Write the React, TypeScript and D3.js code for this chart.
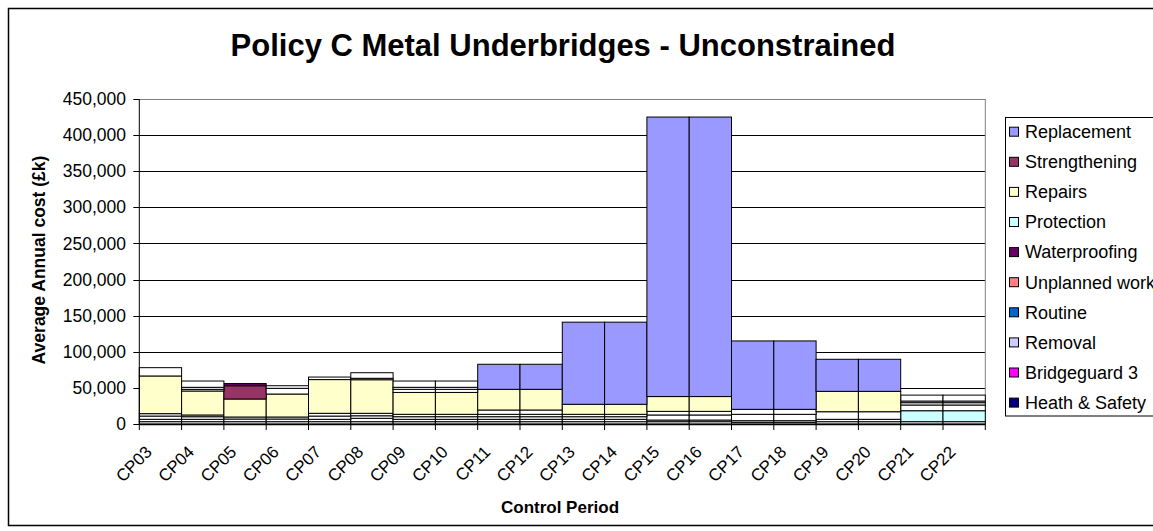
import React from "react";
import * as d3 from "d3";

const categories = ["CP03","CP04","CP05","CP06","CP07","CP08","CP09","CP10","CP11","CP12","CP13","CP14","CP15","CP16","CP17","CP18","CP19","CP20","CP21","CP22"];

// Stack order bottom -> top. Unlisted series are not shown in the (truncated) legend.
const unlistedA = [3200,3200,3200,3200,3200,3200,3200,3200,3200,3200,3200,3200,3200,3200,2300,2300,3200,3200,3200,3200];
const protection = [0,0,0,0,0,0,0,0,0,0,0,0,0,0,0,0,0,0,15200,15200];
const unlistedB = [3300,3300,3700,3700,3300,4700,3300,3300,3300,3300,3300,3300,2300,2300,2300,2300,3300,3300,7900,7900];
const unlistedC = [4500,3600,2800,2800,4500,3500,3600,3600,3600,3600,3600,3600,7000,7000,8800,8800,10500,10500,3200,3200];
const unlistedD = [3300,2400,0,0,3800,3400,3300,3300,3300,3300,3300,3300,5000,5000,6900,6900,0,0,2300,2300];
const unlistedE = [0,0,0,0,0,0,0,0,6000,6000,0,0,0,0,0,0,0,0,8200,8200];
const repairs = [52200,33200,24900,31800,46700,46500,30300,30300,28600,28600,13900,13900,20500,20500,0,0,28200,28200,0,0];
const strengthening = [0,0,18400,0,0,0,0,0,0,0,0,0,0,0,0,0,0,0,0,0];
const waterproofing = [0,0,3000,0,0,0,0,0,0,0,0,0,0,0,0,0,0,0,0,0];
const unlistedF = [11500,2300,0,7900,3500,2000,4300,4300,0,0,0,0,0,0,0,0,0,0,0,0];
const unlistedG = [0,2800,0,0,0,7700,2800,2800,0,0,0,0,0,0,0,0,0,0,0,0];
const unlistedH = [0,8700,0,3600,0,0,8700,8700,0,0,0,0,0,0,0,0,0,0,0,0];
const replacement = [0,0,0,0,0,0,0,0,34700,34700,113700,113700,387000,387000,94700,94700,44400,44400,0,0];

const stackSeries = [
  { key: "Unlisted A", values: unlistedA, color: "#FFFFFF" },
  { key: "Protection", values: protection, color: "#CCFFFF" },
  { key: "Unlisted B", values: unlistedB, color: "#FFFFFF" },
  { key: "Unlisted C", values: unlistedC, color: "#FFFFFF" },
  { key: "Unlisted D", values: unlistedD, color: "#FFFFFF" },
  { key: "Unlisted E", values: unlistedE, color: "#FFFFFF" },
  { key: "Repairs", values: repairs, color: "#FFFFCC" },
  { key: "Strengthening", values: strengthening, color: "#993366" },
  { key: "Waterproofing", values: waterproofing, color: "#660066" },
  { key: "Unlisted F", values: unlistedF, color: "#FFFFFF" },
  { key: "Unlisted G", values: unlistedG, color: "#FFFFFF" },
  { key: "Unlisted H", values: unlistedH, color: "#FFFFFF" },
  { key: "Replacement", values: replacement, color: "#9999FF" },
];

const legendNames = ["Replacement","Strengthening","Repairs","Protection","Waterproofing","Unplanned work","Routine","Removal","Bridgeguard 3","Heath & Safety"];
const legendColors = ["#9999FF","#993366","#FFFFCC","#CCFFFF","#660066","#FF8080","#0066CC","#CCCCFF","#FF00FF","#000080"];

const yTicks = [0,50000,100000,150000,200000,250000,300000,350000,400000,450000];

const FONT = "'Liberation Sans', Arial, sans-serif";

export default function App() {
  const W = 1153, H = 531;
  const left = 139.3, right = 985.3, top = 99, bottom = 424;
  const x = d3.scaleBand<string>().domain(categories).range([left, right]).padding(0);
  const y = d3.scaleLinear().domain([0, 450000]).range([bottom, top]);

  const rows = categories.map((c, i) => {
    const r: any = { cat: c };
    stackSeries.forEach(s => { r[s.key] = s.values[i]; });
    return r;
  });
  const stacked = d3.stack<any>().keys(stackSeries.map(s => s.key))(rows);
  const fmt = d3.format(",");

  const legendTop = 117.5;
  const rowH = 30.1;

  return (
    <svg width={W} height={H} style={{ position: "absolute", left: 0, top: 0, background: "#fff" }} fontFamily={FONT}>
      <rect x={8.5} y={8.5} width={W} height={517} fill="#fff" stroke="#000" strokeWidth={1.5} />
      <text x={563} y={56} textAnchor="middle" fontSize={31} fontWeight="bold">Policy C Metal Underbridges - Unconstrained</text>

      {/* gridlines */}
      {yTicks.map(t => (
        <line key={"g" + t} x1={left} x2={right} y1={Math.round(y(t)) + 0.5} y2={Math.round(y(t)) + 0.5} stroke={t === 450000 ? "#808080" : "#000"} strokeWidth={1} />
      ))}
      <line x1={right} x2={right} y1={top} y2={bottom} stroke="#808080" strokeWidth={1} />

      {/* bars */}
      {stacked.map((layer, li) => (
        <g key={layer.key}>
          {layer.map((d, i) => (
            <rect key={i} x={x(categories[i])!} y={y(d[1])} width={x.bandwidth()} height={Math.max(0, y(d[0]) - y(d[1]))}
              fill={stackSeries[li].color} stroke="#000" strokeWidth={1} />
          ))}
        </g>
      ))}

      {/* y axis */}
      <line x1={left} x2={left} y1={top} y2={bottom} stroke="#000" strokeWidth={1} />
      {yTicks.map(t => (
        <g key={"t" + t}>
          <line x1={left - 6} x2={left} y1={Math.round(y(t)) + 0.5} y2={Math.round(y(t)) + 0.5} stroke="#000" />
          <text x={126} y={y(t)} dy="0.35em" textAnchor="end" fontSize={17.5}>{fmt(t)}</text>
        </g>
      ))}
      <text transform={`translate(45,260) rotate(-90)`} textAnchor="middle" fontSize={17.5} fontWeight="bold">Average Annual cost (£k)</text>

      {/* x axis */}
      <line x1={left} x2={right} y1={bottom + 0.5} y2={bottom + 0.5} stroke="#000" strokeWidth={1.5} />
      {[...categories.map(c => x(c)!), right].map((px, i) => (
        <line key={"xt" + i} x1={px} x2={px} y1={bottom} y2={bottom + 6} stroke="#000" />
      ))}
      {categories.map(c => {
        const cx = x(c)! + x.bandwidth() / 2;
        return (
          <text key={c} transform={`translate(${cx - 7.5},${bottom + 29}) rotate(-45)`} textAnchor="end" fontSize={17}>{c}</text>
        );
      })}
      <text x={560} y={513} textAnchor="middle" fontSize={17} fontWeight="bold">Control Period</text>

      {/* legend */}
      <rect x={1005.5} y={legendTop} width={200} height={298.5} fill="#fff" stroke="#000" strokeWidth={1} />
      {legendNames.map((n, i) => {
        const cy = legendTop + 14.2 + i * rowH;
        return (
          <g key={n}>
            <rect x={1009.5} y={cy - 4.5} width={9} height={9} fill={legendColors[i]} stroke="#000" strokeWidth={1} />
            <text x={1025} y={cy} dy="0.35em" fontSize={18}>{n}</text>
          </g>
        );
      })}
    </svg>
  );
}
